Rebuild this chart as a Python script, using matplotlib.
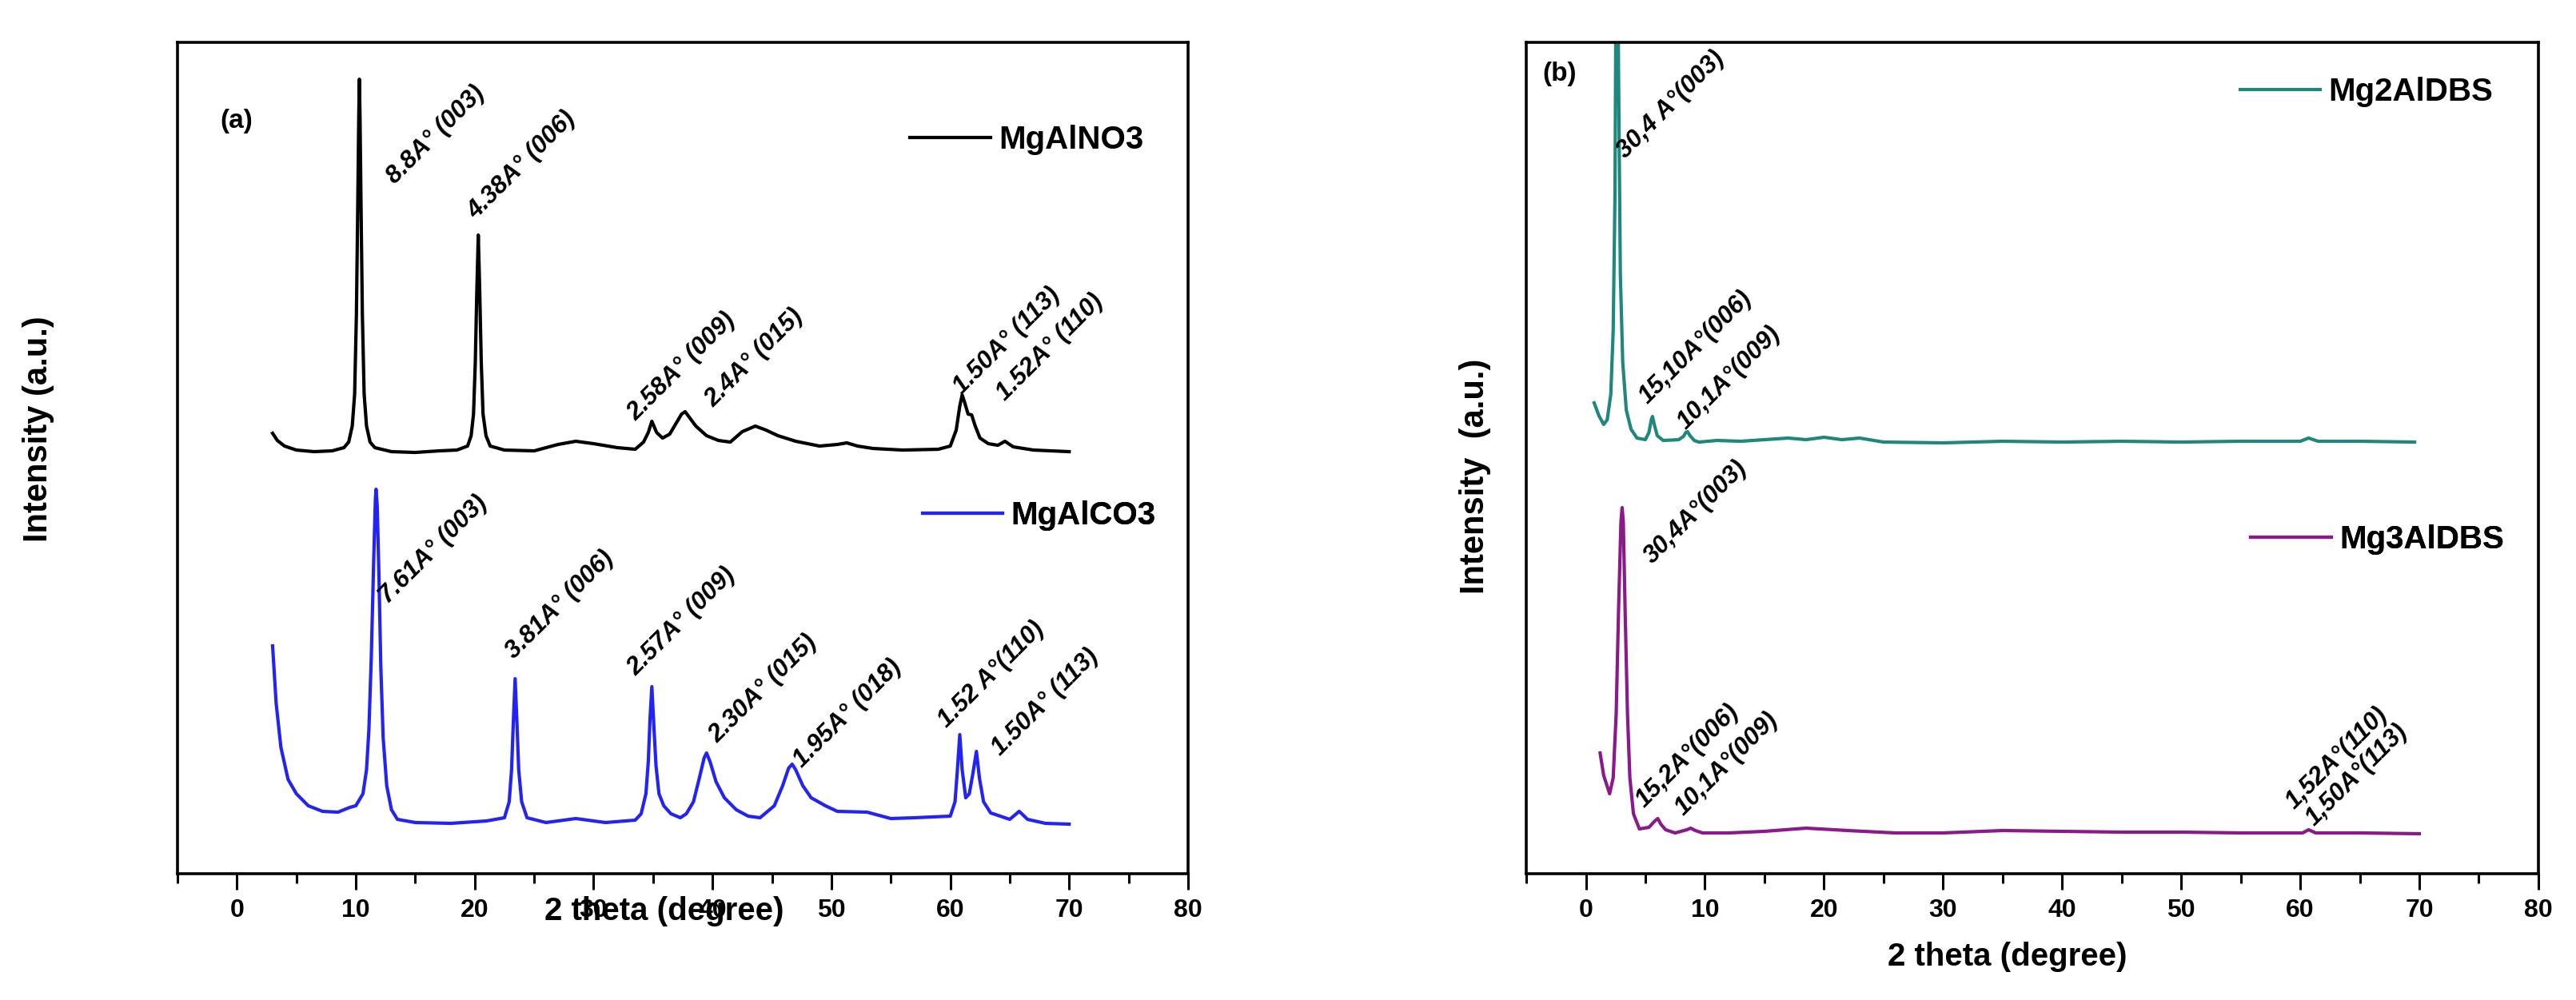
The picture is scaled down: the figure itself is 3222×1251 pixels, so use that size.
import matplotlib
matplotlib.use("Agg")
import matplotlib.pyplot as plt
from matplotlib.ticker import MultipleLocator

plt.rcParams['font.family'] = ['Liberation Sans', 'DejaVu Sans']

# ---- panel (a): MgAlNO3 (upper) and MgAlCO3 (lower), stacked intensities (a.u.)
no3_x = [3.0, 3.4, 4.0, 5.0, 6.5, 8.0, 9.0, 9.4, 9.7, 9.9,
         10.05, 10.15, 10.25, 10.3, 10.35, 10.45, 10.55, 10.7, 10.9, 11.2,
         11.6, 13.0, 15.0, 17.0, 18.5, 19.4, 19.7, 19.9, 20.05, 20.18,
         20.3, 20.42, 20.55, 20.7, 20.95, 21.3, 22.5, 25.0, 27.0, 28.5,
         30.0, 32.0, 33.5, 34.2, 34.6, 34.9, 35.3, 35.8, 36.4, 37.0,
         37.4, 37.7, 38.0, 38.6, 39.5, 40.5, 41.5, 42.5, 43.6, 44.5,
         45.5, 47.0, 49.0, 50.5, 51.3, 52.2, 53.5, 56.0, 59.0, 60.0,
         60.5, 60.8, 61.0, 61.2, 61.5, 61.8, 62.1, 62.5, 63.2, 64.0,
         64.6, 65.3, 67.0, 70.0]
no3_y = [551, 542, 535, 530, 528, 529, 533, 540, 560, 600,
         700, 820, 950, 994, 950, 820, 700, 600, 560, 540,
         533, 528, 527, 529, 530, 535, 548, 575, 640, 730,
         799, 730, 640, 575, 548, 535, 530, 529, 537, 541,
         538, 533, 531, 540, 552, 566, 552, 545, 550, 565,
         575, 578, 572, 560, 548, 542, 540, 553, 560, 555,
         548, 541, 535, 537, 539, 535, 532, 530, 531, 535,
         555, 585, 599, 590, 575, 574, 560, 545, 538, 536,
         541, 534, 530, 528]

co3_x = [3.0, 3.3, 3.7, 4.3, 5.0, 6.0, 7.2, 8.5, 9.5, 10.0,
         10.6, 10.9, 11.1, 11.3, 11.5, 11.65, 11.7, 11.8, 11.95, 12.1,
         12.3, 12.6, 13.0, 13.5, 15.0, 18.0, 21.0, 22.5, 22.9, 23.1,
         23.25, 23.4, 23.55, 23.7, 23.95, 24.4, 26.0, 28.5, 31.0, 33.5,
         34.0, 34.4, 34.6, 34.75, 34.9, 35.05, 35.25, 35.5, 35.9, 36.5,
         37.3, 37.8, 38.4, 38.9, 39.3, 39.5, 39.8, 40.3, 41.0, 42.0,
         43.0, 44.0, 45.2, 45.9, 46.4, 46.7, 47.0, 47.6, 48.3, 49.5,
         50.5, 53.0, 55.0, 57.0, 60.0, 60.4, 60.6, 60.8, 61.0, 61.3,
         61.6, 61.9, 62.2, 62.45, 62.8, 63.4, 65.0, 65.8, 66.5, 68.0,
         70.0]
co3_y = [285, 213, 158, 118, 100, 85, 78, 77, 83, 85,
         100, 130, 180, 270, 390, 470, 481, 460, 370, 260,
         170, 110, 80, 68, 64, 63, 66, 70, 90, 130,
         190, 244, 190, 130, 90, 70, 64, 69, 64, 67,
         75, 100, 140, 195, 234, 190, 135, 100, 85, 75,
         70, 75, 90, 120, 145, 151, 140, 115, 95, 80,
         72, 70, 85, 110, 132, 137, 130, 110, 95, 85,
         78, 77, 69, 70, 72, 90, 130, 174, 130, 95,
         100, 125, 153, 120, 90, 76, 68, 78, 68, 63,
         62]

# ---- panel (b): Mg2AlDBS (upper) and Mg3AlDBS (lower)
mg2_x = [0.7, 1.1, 1.5, 1.8, 2.1, 2.3, 2.45, 2.6, 2.75, 2.9,
         3.1, 3.4, 3.8, 4.3, 5.0, 5.3, 5.5, 5.6, 5.75, 6.0,
         6.5, 7.8, 8.2, 8.4, 8.55, 8.75, 9.1, 9.5, 11.0, 13.0,
         15.0, 17.0, 18.5, 20.0, 21.5, 23.0, 25.0, 30.0, 35.0, 40.0,
         45.0, 50.0, 55.0, 60.0, 60.7, 61.5, 65.0, 69.6]
mg2_y = [589, 573, 562, 568, 600, 680, 850, 1300, 1000, 750,
         640, 580, 556, 545, 543, 552, 568, 572, 562, 548,
         542, 543, 547, 552, 553, 548, 542, 540, 542, 541,
         543, 545, 543, 546, 543, 545, 540, 539, 541, 540,
         541, 540, 541, 541, 545, 541, 541, 540]

mg3_x = [1.2, 1.5, 2.0, 2.3, 2.55, 2.75, 2.95, 3.05, 3.15, 3.3,
         3.5, 3.7, 4.0, 4.5, 5.3, 5.8, 6.05, 6.3, 6.7, 7.5,
         8.5, 8.8, 9.2, 9.8, 12.0, 15.0, 18.5, 22.0, 26.0, 30.0,
         35.0, 40.0, 45.0, 50.0, 55.0, 60.2, 60.7, 61.3, 65.0, 70.0]
mg3_y = [151, 123, 100, 120, 200, 330, 440, 458, 440, 330,
         200, 120, 75, 56, 58, 66, 69, 62, 55, 51,
         55, 57, 54, 51, 51, 53, 57, 54, 51, 51,
         54, 53, 52, 52, 51, 51, 55, 51, 51, 50]

# peak annotations (text, 2theta, intensity)
no3_lbl = ["8.8A° (003)", "4.38A° (006)", "2.58A° (009)", "2.4A° (015)", "1.50A° (113)", "1.52A° (110)"]
no3_lx = [13.3, 20.1, 33.6, 40.1, 61.0, 64.6]
no3_ly = [862, 818, 566, 583, 599, 591]

co3_lbl = ["7.61A° (003)", "3.81A° (006)", "2.57A° (009)", "2.30A° (015)", "1.95A° (018)",
           "1.52 A°(110)", "1.50A° (113)"]
co3_lx = [12.7, 23.3, 33.6, 40.4, 47.5, 59.7, 64.2]
co3_ly = [337, 268, 247, 163, 132, 182, 147]

mg2_lbl = ["30,4 A°(003)", "15,10A°(006)", "10,1A°(009)"]
mg2_lx = [3.3, 5.2, 8.4]
mg2_ly = [894, 587, 555]

mg3_lbl = ["30,4A°(003)", "15,2A°(006)", "10,1A°(009)", "1,52A°(110)", "1,50A°(113)"]
mg3_lx = [5.6, 4.9, 8.2, 59.5, 61.2]
mg3_ly = [387, 82, 72, 80, 59]

c_no3 = 'black'
c_co3 = '#2323f5'
c_mg2 = '#1f877d'
c_mg3 = '#8a1a8a'

fig = plt.figure(figsize=(32.22, 12.51), dpi=100)
ax1 = fig.add_axes([0.0689, 0.1263, 0.3923, 0.8313])
ax2 = fig.add_axes([0.5925, 0.1263, 0.3929, 0.8313])


def style(ax):
    ax.set_xlim(-5, 80)
    ax.set_ylim(0, 1040)
    ax.xaxis.set_major_locator(MultipleLocator(10))
    ax.xaxis.set_minor_locator(MultipleLocator(5))
    ax.set_yticks([])
    ax.tick_params(axis='x', which='major', direction='out', length=14.5, width=2.2,
                   labelsize=23, pad=8)
    ax.tick_params(axis='x', which='minor', direction='out', length=8.5, width=2.2)
    for lab in ax.get_xticklabels():
        lab.set_fontweight('bold')
    for sp in ax.spines.values():
        sp.set_linewidth(2.6)


def annotate(ax, labels, xs, ys):
    for t, x, y in zip(labels, xs, ys):
        ax.text(x, y, t, rotation=45, rotation_mode='anchor', ha='left', va='baseline',
                fontsize=22.5, fontweight='bold', fontstyle='italic')


def add_legend(ax, line, name, pos):
    leg = ax.legend([line], [name], loc='center left', bbox_to_anchor=pos, frameon=False,
                    borderpad=0, borderaxespad=0, handlelength=2.5, handletextpad=0.25,
                    prop={'size': 29, 'weight': 'bold'})
    ax.add_artist(leg)


# panel (a)
l_no3, = ax1.plot(no3_x, no3_y, color=c_no3, lw=3.0)
l_co3, = ax1.plot(co3_x, co3_y, color=c_co3, lw=3.0)
style(ax1)
annotate(ax1, no3_lbl, no3_lx, no3_ly)
annotate(ax1, co3_lbl, co3_lx, co3_ly)
add_legend(ax1, l_no3, 'MgAlNO3', (0.725, 0.883))
add_legend(ax1, l_co3, 'MgAlCO3', (0.737, 0.431))
ax1.text(0.058, 0.905, '(a)', transform=ax1.transAxes, ha='center', va='center',
         fontsize=24, fontweight='bold')
ax1.set_xlabel('2 theta (degree)', fontsize=29, fontweight='bold')
ax1.xaxis.set_label_coords(0.482, -0.027)
ax1.set_ylabel('Intensity (a.u.)', fontsize=30, fontweight='bold')
ax1.yaxis.set_label_coords(-0.122, 0.535)

# panel (b)
l_mg2, = ax2.plot(mg2_x, mg2_y, color=c_mg2, lw=3.0)
l_mg3, = ax2.plot(mg3_x, mg3_y, color=c_mg3, lw=3.0)
style(ax2)
annotate(ax2, mg2_lbl, mg2_lx, mg2_ly)
annotate(ax2, mg3_lbl, mg3_lx, mg3_ly)
add_legend(ax2, l_mg2, 'Mg2AlDBS', (0.705, 0.940))
add_legend(ax2, l_mg3, 'Mg3AlDBS', (0.716, 0.402))
ax2.text(0.033, 0.962, '(b)', transform=ax2.transAxes, ha='center', va='center',
         fontsize=24, fontweight='bold')
ax2.set_xlabel('2 theta (degree)', fontsize=29, fontweight='bold')
ax2.xaxis.set_label_coords(0.475, -0.082)
ax2.set_ylabel('Intensity  (a.u.)', fontsize=30, fontweight='bold')
ax2.yaxis.set_label_coords(-0.035, 0.478)

fig.savefig('out.png', dpi=100, facecolor='white')
